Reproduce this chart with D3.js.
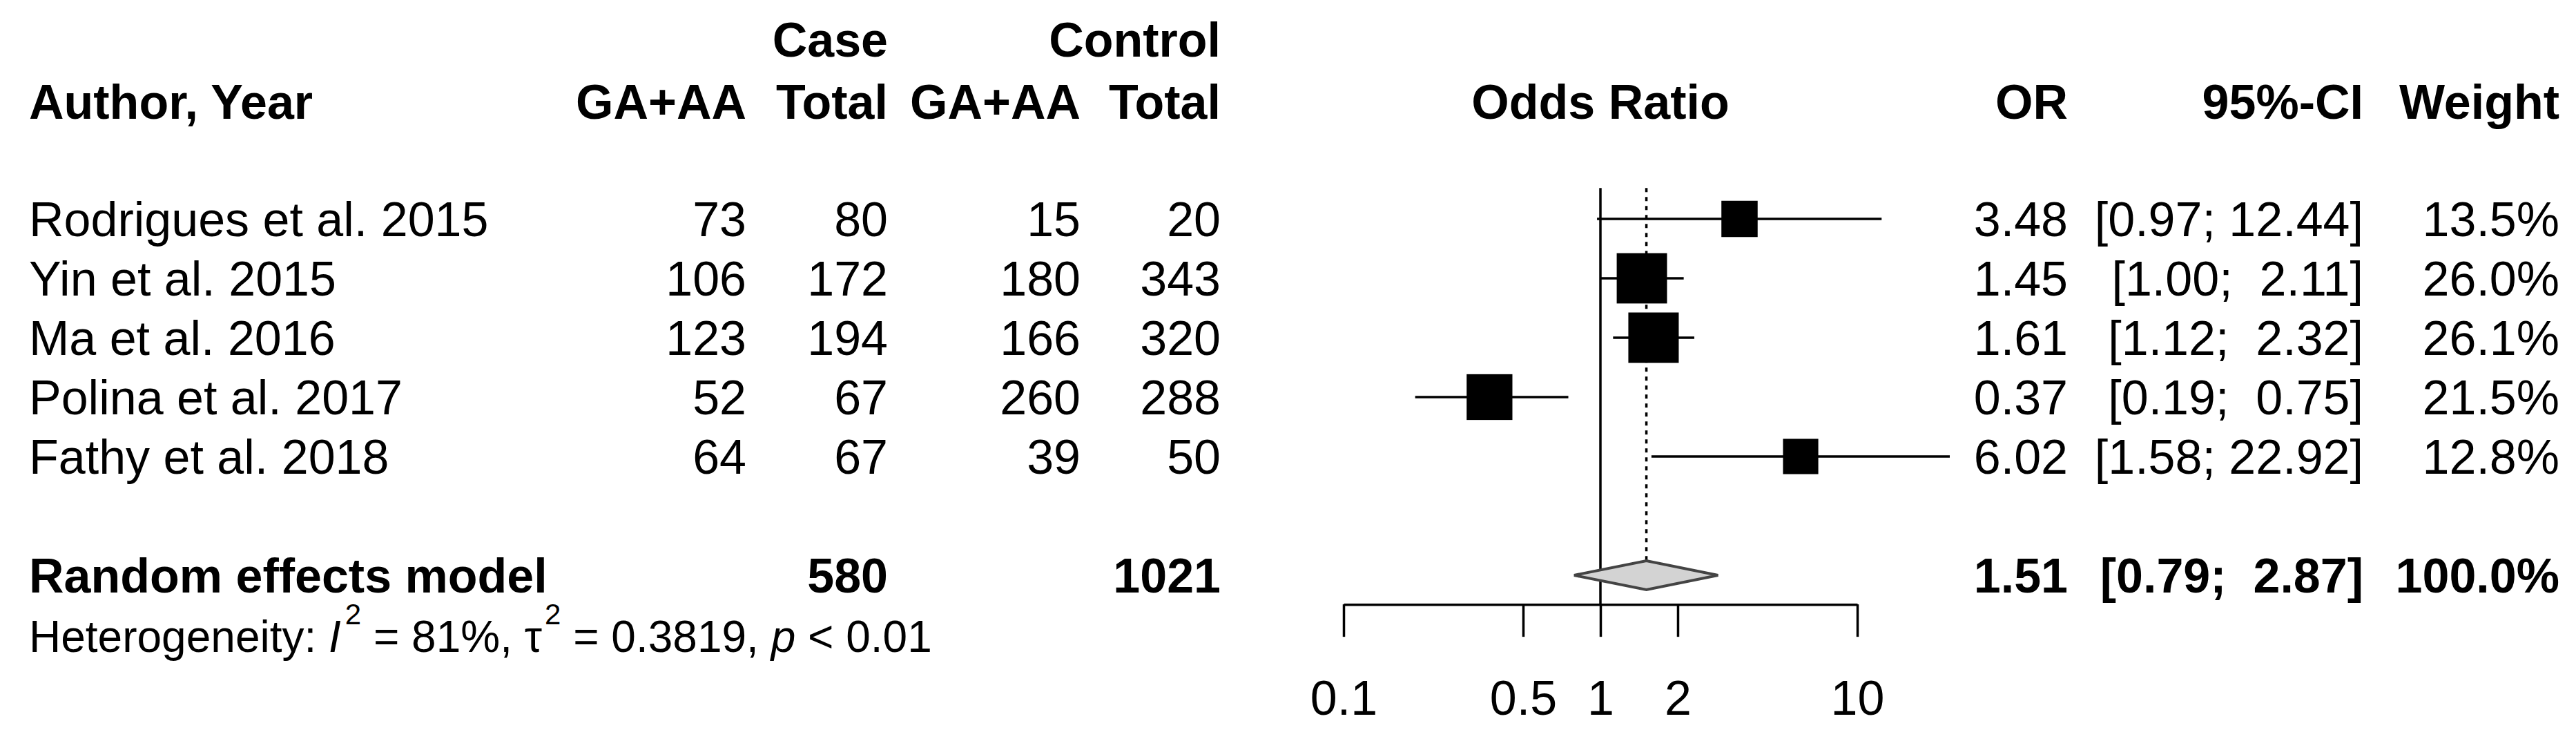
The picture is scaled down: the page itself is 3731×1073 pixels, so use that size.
<html>
<head>
<title>Forest plot - GA+AA</title>
<script src="https://d3js.org/d3.v7.min.js"></script>
<style>
body { margin: 0; background: #fff; }
svg text { font-family: "Liberation Sans", Arial, sans-serif; font-size: 70px; fill: #000; white-space: pre; }
.bold { font-weight: bold; }
</style>
</head>
<body>
<div id="container"></div>
<script>
// study data
var authors = ['Rodrigues et al. 2015', 'Yin et al. 2015', 'Ma et al. 2016', 'Polina et al. 2017', 'Fathy et al. 2018']
var caseEvents = [73, 106, 123, 52, 64]
var caseTotal = [80, 172, 194, 67, 67]
var ctrlEvents = [15, 180, 166, 260, 39]
var ctrlTotal = [20, 343, 320, 288, 50]
var orValues = [3.48, 1.45, 1.61, 0.37, 6.02]
var ciLower = [0.97, 1.00, 1.12, 0.19, 1.58]
var ciUpper = [12.44, 2.11, 2.32, 0.75, 22.92]
var weights = [13.5, 26.0, 26.1, 21.5, 12.8]

// pooled (random effects)
var pooledOR = 1.51, pooledLower = 0.79, pooledUpper = 2.87, pooledWeight = 100.0
var pooledCase = 580, pooledCtrl = 1021

var tickValues = [0.1, 0.5, 1, 2, 10]

var width = 3731, height = 1073
var svg = d3.select('#container').append('svg')
	.attr('width', width)
	.attr('height', height)

var x = d3.scaleLog().domain([0.1, 10]).range([1946, 2690])
// row index -> vertical centre
var y = d3.scaleLinear().domain([0, 1]).range([317, 403])
var size = d3.scaleSqrt().domain([0, 26.1]).range([0, 73])

var col = { author: 42, caseEv: 1081, caseTot: 1286, ctrlEv: 1565, ctrlTot: 1768, or: 2995, ci: 3423, weight: 3707 }
var f2 = d3.format('.2f'), f1 = d3.format('.1f')

function pad(s, n) { while (s.length < n) s = ' ' + s; return s }
function ciText(lo, hi) { return '[' + pad(f2(lo), 4) + '; ' + pad(f2(hi), 5) + ']' }

function label(xp, row, str, anchor, bold) {
	return svg.append('text')
		.attr('x', xp)
		.attr('y', y(row))
		.attr('dy', '0.36em')
		.attr('text-anchor', anchor)
		.attr('class', bold ? 'bold' : null)
		.text(str)
}

// headers
label(col.caseTot, -3.03, 'Case', 'end', true)
label(col.ctrlTot, -3.03, 'Control', 'end', true)
label(col.author, -1.98, 'Author, Year', 'start', true)
label(col.caseEv, -1.98, 'GA+AA', 'end', true)
label(col.caseTot, -1.98, 'Total', 'end', true)
label(col.ctrlEv, -1.98, 'GA+AA', 'end', true)
label(col.ctrlTot, -1.98, 'Total', 'end', true)
label(x(1), -1.98, 'Odds Ratio', 'middle', true)
label(col.or, -1.98, 'OR', 'end', true)
label(col.ci, -1.98, '95%-CI', 'end', true)
label(col.weight, -1.98, 'Weight', 'end', true)

// study rows
authors.forEach(function(a, i) {
	label(col.author, i, a, 'start')
	label(col.caseEv, i, caseEvents[i], 'end')
	label(col.caseTot, i, caseTotal[i], 'end')
	label(col.ctrlEv, i, ctrlEvents[i], 'end')
	label(col.ctrlTot, i, ctrlTotal[i], 'end')
	label(col.or, i, f2(orValues[i]), 'end')
	label(col.ci, i, ciText(ciLower[i], ciUpper[i]), 'end')
	label(col.weight, i, f1(weights[i]) + '%', 'end')
})

// pooled row
label(col.author, 6, 'Random effects model', 'start', true)
label(col.caseTot, 6, pooledCase, 'end', true)
label(col.ctrlTot, 6, pooledCtrl, 'end', true)
label(col.or, 6, f2(pooledOR), 'end', true)
label(col.ci, 6, ciText(pooledLower, pooledUpper), 'end', true)
label(col.weight, 6, f1(pooledWeight) + '%', 'end', true)

// heterogeneity line
var het = svg.append('text')
	.attr('x', col.author)
	.attr('y', y(7.02))
	.attr('dy', '0.36em')
	.style('font-size', '64px')
het.append('tspan').text('Heterogeneity: ')
het.append('tspan').style('font-style', 'italic').text('I')
het.append('tspan').attr('dx', 6).attr('dy', -40).style('font-size', '42px').text('2')
het.append('tspan').attr('dy', 40).text(' = 81%, \u03c4')
het.append('tspan').attr('dx', 4).attr('dy', -40).style('font-size', '42px').text('2')
het.append('tspan').attr('dy', 40).text(' = 0.3819, ')
het.append('tspan').style('font-style', 'italic').text('p')
het.append('tspan').text(' < 0.01')

var axisY = y(6.49)

// reference line at OR = 1 and dotted line at pooled estimate
svg.append('line')
	.attr('x1', x(1)).attr('x2', x(1))
	.attr('y1', y(-0.52)).attr('y2', axisY)
	.attr('stroke', '#000').attr('stroke-width', 3.5)

svg.append('line')
	.attr('x1', x(pooledOR)).attr('x2', x(pooledOR))
	.attr('y1', y(-0.52)).attr('y2', y(6) - 21)
	.attr('stroke', '#000').attr('stroke-width', 3.5)
	.attr('stroke-dasharray', '6,7')

// confidence intervals
svg.selectAll('line.ci')
	.data(orValues)
	.enter().append('line')
	.attr('class', 'ci')
	.attr('x1', function(d, i) { return x(ciLower[i]) })
	.attr('x2', function(d, i) { return x(ciUpper[i]) })
	.attr('y1', function(d, i) { return y(i) })
	.attr('y2', function(d, i) { return y(i) })
	.attr('stroke', '#000')
	.attr('stroke-width', 3.5)

// weighted squares
svg.selectAll('rect.sq')
	.data(orValues)
	.enter().append('rect')
	.attr('class', 'sq')
	.attr('x', function(d, i) { return x(d) - size(weights[i]) / 2 })
	.attr('y', function(d, i) { return y(i) - size(weights[i]) / 2 })
	.attr('width', function(d, i) { return size(weights[i]) })
	.attr('height', function(d, i) { return size(weights[i]) })
	.attr('fill', '#000')

// pooled diamond
var dy = y(6)
svg.append('path')
	.attr('d', 'M' + x(pooledLower) + ',' + dy +
		'L' + x(pooledOR) + ',' + (dy - 21) +
		'L' + x(pooledUpper) + ',' + dy +
		'L' + x(pooledOR) + ',' + (dy + 21) + 'Z')
	.attr('fill', '#d3d3d3')
	.attr('stroke', '#444')
	.attr('stroke-width', 4)

// x axis
var axis = svg.append('g')
	.attr('transform', 'translate(0,' + axisY + ')')
	.call(d3.axisBottom(x)
		.tickValues(tickValues)
		.tickFormat(function(d) { return String(d) })
		.tickSize(47)
		.tickSizeOuter(0)
		.tickPadding(63))

axis.selectAll('path, line').attr('stroke', '#000').attr('stroke-width', 3.5)
axis.selectAll('text').style('font-size', '70px').attr('fill', '#000')
axis.attr('font-family', null).attr('font-size', null)
</script>
</body>
</html>
